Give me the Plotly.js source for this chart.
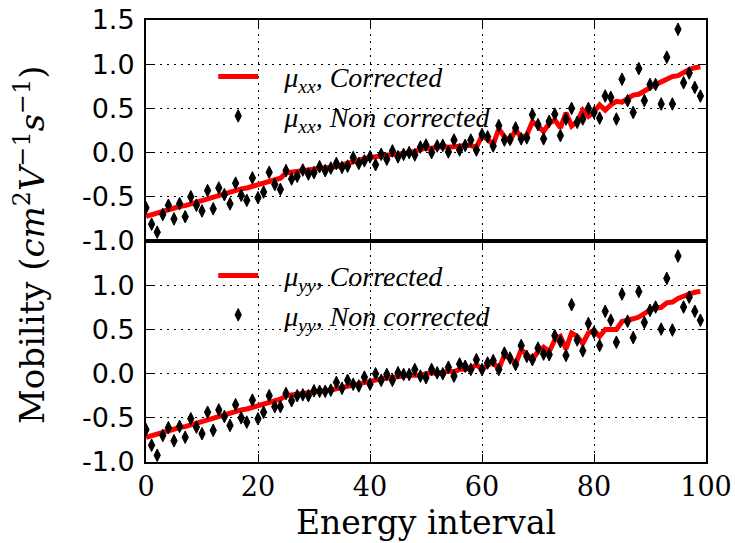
<!DOCTYPE html>
<html>
<head>
<meta charset="utf-8">
<script src="https://cdn.plot.ly/plotly-3.0.1.min.js"></script>
<style>html,body{margin:0;padding:0;background:#fff;}</style>
</head>
<body>
<div id="chart" style="width:735px;height:543px;"></div>
<script>
// Energy interval index
const energy = Array.from({length: 100}, (_, i) => i);

// mu_xx corrected (red line)
const muxxCorrected = [
 -0.72,-0.70,-0.68,-0.67,-0.65,-0.63,-0.61,-0.60,-0.58,-0.56,
 -0.54,-0.52,-0.51,-0.49,-0.47,-0.45,-0.43,-0.41,-0.40,-0.38,
 -0.36,-0.35,-0.33,-0.31,-0.29,-0.23,-0.22,-0.21,-0.205,-0.20,
 -0.19,-0.18,-0.17,-0.165,-0.16,-0.14,-0.12,-0.10,-0.09,-0.07,
 -0.055,-0.05,-0.04,-0.03,-0.02,-0.02,-0.01,0.0,0.02,0.04,
 0.05,0.05,0.06,0.07,0.06,0.07,0.07,0.08,0.08,0.06,
 0.19,0.15,0.09,0.27,0.18,0.13,0.26,0.17,0.20,0.35,
 0.30,0.24,0.33,0.37,0.28,0.45,0.30,0.35,0.48,0.41,
 0.46,0.54,0.48,0.54,0.58,0.57,0.61,0.65,0.66,0.70,
 0.74,0.77,0.80,0.83,0.86,0.87,0.91,0.94,0.96,0.97
];

// mu_xx non corrected (black diamonds)
const muxxNonCorrected = [
 -0.625,-0.81,-0.90,-0.70,-0.595,-0.75,-0.577,-0.725,-0.50,-0.595,
 -0.66,-0.43,-0.636,-0.40,-0.476,-0.58,-0.346,-0.483,-0.54,-0.286,
 -0.51,-0.446,-0.223,-0.36,-0.416,-0.204,-0.298,-0.268,-0.197,-0.242,
 -0.227,-0.16,-0.204,-0.175,-0.123,-0.167,-0.153,-0.056,-0.123,-0.093,
 -0.048,-0.137,-0.019,-0.075,0.019,-0.048,-0.02,0.0,-0.026,0.063,
 0.085,0.0,0.075,0.082,0.008,0.142,0.03,0.082,0.142,0.03,
 0.205,0.179,0.075,0.305,0.142,0.149,0.279,0.156,0.167,0.428,
 0.316,0.156,0.354,0.435,0.193,0.38,0.50,0.343,0.38,0.50,
 0.454,0.39,0.64,0.625,0.38,0.83,0.588,0.454,0.95,0.588,
 0.77,0.77,0.55,1.08,0.55,1.395,0.79,0.90,0.737,0.64
];

// mu_yy corrected (red line)
const muyyCorrected = [
 -0.72,-0.70,-0.68,-0.67,-0.65,-0.63,-0.61,-0.60,-0.58,-0.56,
 -0.54,-0.52,-0.51,-0.49,-0.47,-0.45,-0.43,-0.41,-0.40,-0.38,
 -0.36,-0.35,-0.33,-0.31,-0.29,-0.25,-0.24,-0.23,-0.225,-0.22,
 -0.21,-0.20,-0.19,-0.185,-0.17,-0.16,-0.14,-0.13,-0.12,-0.10,
 -0.08,-0.07,-0.06,-0.05,-0.04,-0.035,-0.03,-0.02,-0.02,-0.02,
 0.0,0.01,0.0,0.01,0.03,0.02,0.05,0.05,0.06,0.10,
 0.05,0.095,0.13,0.05,0.21,0.17,0.11,0.27,0.22,0.16,
 0.25,0.30,0.25,0.38,0.42,0.28,0.46,0.42,0.34,0.46,
 0.49,0.42,0.50,0.50,0.50,0.59,0.60,0.62,0.64,0.68,
 0.72,0.74,0.75,0.80,0.81,0.85,0.88,0.90,0.92,0.93
];

// mu_yy non corrected (black diamonds)
const muyyNonCorrected = [
 -0.634,-0.81,-0.924,-0.70,-0.612,-0.76,-0.597,-0.72,-0.511,-0.605,
 -0.68,-0.437,-0.642,-0.411,-0.486,-0.586,-0.352,-0.50,-0.549,-0.30,
 -0.511,-0.437,-0.25,-0.374,-0.374,-0.225,-0.307,-0.25,-0.24,-0.25,
 -0.195,-0.20,-0.20,-0.187,-0.10,-0.166,-0.076,-0.12,-0.14,-0.04,
 -0.12,-0.002,-0.076,-0.01,-0.076,0.009,-0.01,-0.01,0.046,-0.028,
 -0.046,0.047,0.009,-0.002,0.072,-0.028,0.109,0.083,0.047,0.158,
 0.047,0.12,0.147,0.047,0.232,0.176,0.102,0.318,0.195,0.158,
 0.288,0.221,0.214,0.429,0.362,0.206,0.78,0.381,0.258,0.567,
 0.467,0.318,0.705,0.604,0.355,0.90,0.593,0.407,0.928,0.579,
 0.716,0.753,0.504,1.077,0.493,1.33,0.753,0.865,0.705,0.604
];

const xTickVals = [0, 20, 40, 60, 80, 100];
const xTickText = ['0', '20', '40', '60', '80', '100'];
const yTopTickVals = [-1, -0.5, 0, 0.5, 1, 1.5];
const yTopTickText = ['-1.0', '-0.5', '0.0', '0.5', '1.0', '1.5'];
const yBotTickVals = [-1, -0.5, 0, 0.5, 1];
const yBotTickText = ['-1.0', '-0.5', '0.0', '0.5', '1.0'];

const lineStyle = {color: '#ff0000', width: 5};
const markerStyle = {symbol: 'diamond-tall', size: 9, color: '#000000', line: {color: '#000000', width: 1}};
const pad = '&nbsp;&nbsp;&nbsp;';

const traces = [
  {x: energy, y: muxxCorrected, xaxis: 'x', yaxis: 'y', mode: 'lines', line: lineStyle,
   name: pad + '<i>μ<sub>xx</sub>, Corrected</i>', legend: 'legend'},
  {x: energy, y: muxxNonCorrected, xaxis: 'x', yaxis: 'y', mode: 'markers', marker: markerStyle,
   name: pad + '<i>μ<sub>xx</sub>, Non corrected</i>', legend: 'legend'},
  {x: energy, y: muyyCorrected, xaxis: 'x2', yaxis: 'y2', mode: 'lines', line: lineStyle,
   name: pad + '<i>μ<sub>yy</sub>, Corrected</i>', legend: 'legend2'},
  {x: energy, y: muyyNonCorrected, xaxis: 'x2', yaxis: 'y2', mode: 'markers', marker: markerStyle,
   name: pad + '<i>μ<sub>yy</sub>, Non corrected</i>', legend: 'legend2'}
];

const common = {
  showline: true, linecolor: '#000', linewidth: 2, mirror: 'ticks',
  ticks: 'inside', ticklen: 8, tickwidth: 1, tickcolor: '#000',
  showgrid: true, gridcolor: '#000', gridwidth: 1, griddash: '2px,5px',
  zeroline: false
};

const xCommon = Object.assign({}, common, {
  range: [0, 100], tickmode: 'array', tickvals: xTickVals, ticktext: xTickText
});

const legendFont = {family: 'Liberation Serif, DejaVu Serif, serif', size: 28, color: '#000'};

const layout = {
  width: 735, height: 543,
  margin: {l: 146, r: 29, t: 20, b: 81},
  paper_bgcolor: '#fff', plot_bgcolor: '#fff',
  showlegend: true,
  xaxis: Object.assign({}, xCommon, {domain: [0, 1], anchor: 'y', showticklabels: false}),
  xaxis2: Object.assign({}, xCommon, {domain: [0, 1], anchor: 'y2', matches: 'x',
    showticklabels: true, tickfont: {family: 'DejaVu Serif, serif', size: 27, color: '#000'}}),
  yaxis: Object.assign({}, common, {domain: [0.5, 1], anchor: 'x', range: [-1, 1.5],
    tickmode: 'array', tickvals: yTopTickVals, ticktext: yTopTickText,
    ticklabelstandoff: 4,
    tickfont: {family: 'DejaVu Sans, sans-serif', size: 27, color: '#000'}}),
  yaxis2: Object.assign({}, common, {domain: [0, 0.5], anchor: 'x2', range: [-1, 1.5],
    tickmode: 'array', tickvals: yBotTickVals, ticktext: yBotTickText,
    ticklabelstandoff: 4,
    tickfont: {family: 'DejaVu Sans, sans-serif', size: 27, color: '#000'}}),
  legend: {x: 0.12, y: 0.928, xanchor: 'left', yanchor: 'top', bgcolor: 'rgba(0,0,0,0)',
    borderwidth: 0, font: legendFont, itemwidth: 40},
  legend2: {x: 0.12, y: 0.478, xanchor: 'left', yanchor: 'top', bgcolor: 'rgba(0,0,0,0)',
    borderwidth: 0, font: legendFont, itemwidth: 40},
  annotations: [
    {text: 'Mobility (<i>cm</i><sup>2</sup><i>V</i><sup>−1</sup><i>s</i><sup>−1</sup>)',
     xref: 'paper', yref: 'paper', x: -0.207, y: 0.491, xanchor: 'center', yanchor: 'middle',
     textangle: -90, showarrow: false,
     font: {family: 'DejaVu Serif, serif', size: 34, color: '#000'}},
    {text: 'Energy interval', xref: 'paper', yref: 'paper', x: 0.5, y: -0.136,
     xanchor: 'center', yanchor: 'middle', showarrow: false,
     font: {family: 'DejaVu Serif, serif', size: 33, color: '#000'}}
  ]
};

Plotly.newPlot('chart', traces, layout, {displayModeBar: false, staticPlot: true});
</script>
</body>
</html>
